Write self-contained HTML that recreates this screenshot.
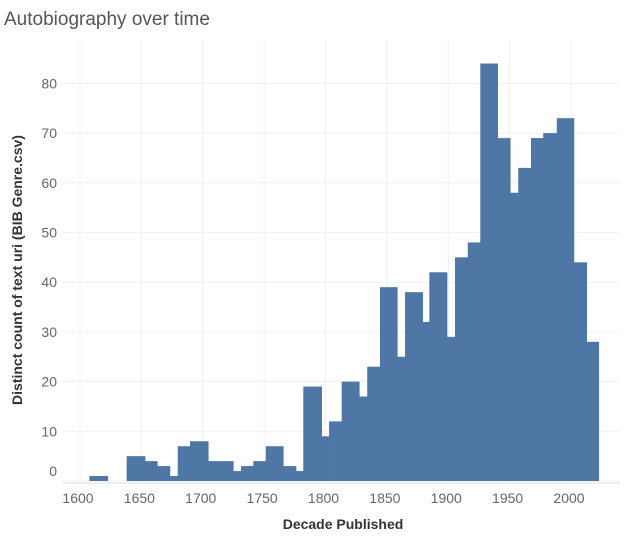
<!DOCTYPE html>
<html><head><meta charset="utf-8"><style>
body{margin:0;background:#fff;font-family:"Liberation Sans",sans-serif;}
svg text{font-family:"Liberation Sans",sans-serif;}
</style></head><body>
<svg width="624" height="542" viewBox="0 0 624 542">
<text x="4" y="25" font-size="19" fill="#555">Autobiography over time</text>
<g id="grid"></g><g id="bars"></g><g id="axes"></g>
<text transform="translate(22,270) rotate(-90)" text-anchor="middle" font-size="14" fill="#333" font-weight="bold" style="font-weight:600">Distinct count of text uri (BIB Genre.csv)</text>
<text x="343" y="529" text-anchor="middle" font-size="14" fill="#333" style="font-weight:600">Decade Published</text>
</svg>
<script>
const binStart=[1607.6,1638.0,1653.0,1663.0,1673.3,1679.6,1689.6,1704.5,1714.7,1724.9,1731.2,1741.2,1751.3,1765.6,1776.0,1781.9,1796.9,1802.9,1813.2,1827.5,1834.0,1844.4,1858.5,1864.8,1879.2,1884.6,1899.0,1905.5,1915.9,1926.1,1940.3,1950.5,1957.0,1967.4,1977.4,1988.4,2002.4,2012.8];
const binEnd=[1622.6,1653.0,1663.0,1673.3,1679.6,1689.6,1704.5,1714.7,1724.9,1731.2,1741.2,1751.3,1765.6,1776.0,1781.9,1796.9,1802.9,1813.2,1827.5,1834.0,1844.4,1858.5,1864.8,1879.2,1884.6,1899.0,1905.5,1915.9,1926.1,1940.3,1950.5,1957.0,1967.4,1977.4,1988.4,2002.4,2012.8,2022.6];
const counts=[1,5,4,3,1,7,8,4,4,2,3,4,7,3,2,19,9,12,20,17,23,39,25,38,32,42,29,45,48,84,69,58,63,69,70,73,44,28];
const yTicks=[0,10,20,30,40,50,60,70,80];
const xTicks=[1600,1650,1700,1750,1800,1850,1900,1950,2000];
const NS="http://www.w3.org/2000/svg";
const x=v=>80+(v-1600)*1.2275;
const y=v=>481-v*4.97;
function mk(t,a,p){const e=document.createElementNS(NS,t);for(const k in a)e.setAttribute(k,a[k]);p.appendChild(e);return e;}
const grid=document.getElementById('grid'),bars=document.getElementById('bars'),axes=document.getElementById('axes');
yTicks.forEach(t=>{
 const l=mk('line',{x1:62,x2:620,y1:y(t),y2:y(t),stroke:'#f0f0f0','stroke-width':1},grid);
 
 
 const tx=mk('text',{x:57,y:(t===0?Math.min(y(t)-5,476):y(t)+5),'text-anchor':'end','font-size':14,fill:'#666'},axes);
 tx.textContent=t;
 
 
});
xTicks.forEach(t=>{
 const l=mk('line',{x1:x(t),x2:x(t),y1:40,y2:484,stroke:'#f0f0f0','stroke-width':1},grid);
 
 
 const tx=mk('text',{x:x(t)-2,y:503,'text-anchor':'middle','font-size':14,fill:'#666'},axes);
 tx.textContent=t;
 
 
});
const base=mk('line',{x1:62,x2:620,y1:483,y2:483,stroke:'#ddd','stroke-width':1},axes);


counts.forEach((c,i)=>{
 const r=mk('rect',{x:x(binStart[i]),y:y(c),width:x(binEnd[i])-x(binStart[i])+0.3,height:y(0)-y(c),fill:'#4e77a5'},bars);
 
 
});
</script>
</body></html>
